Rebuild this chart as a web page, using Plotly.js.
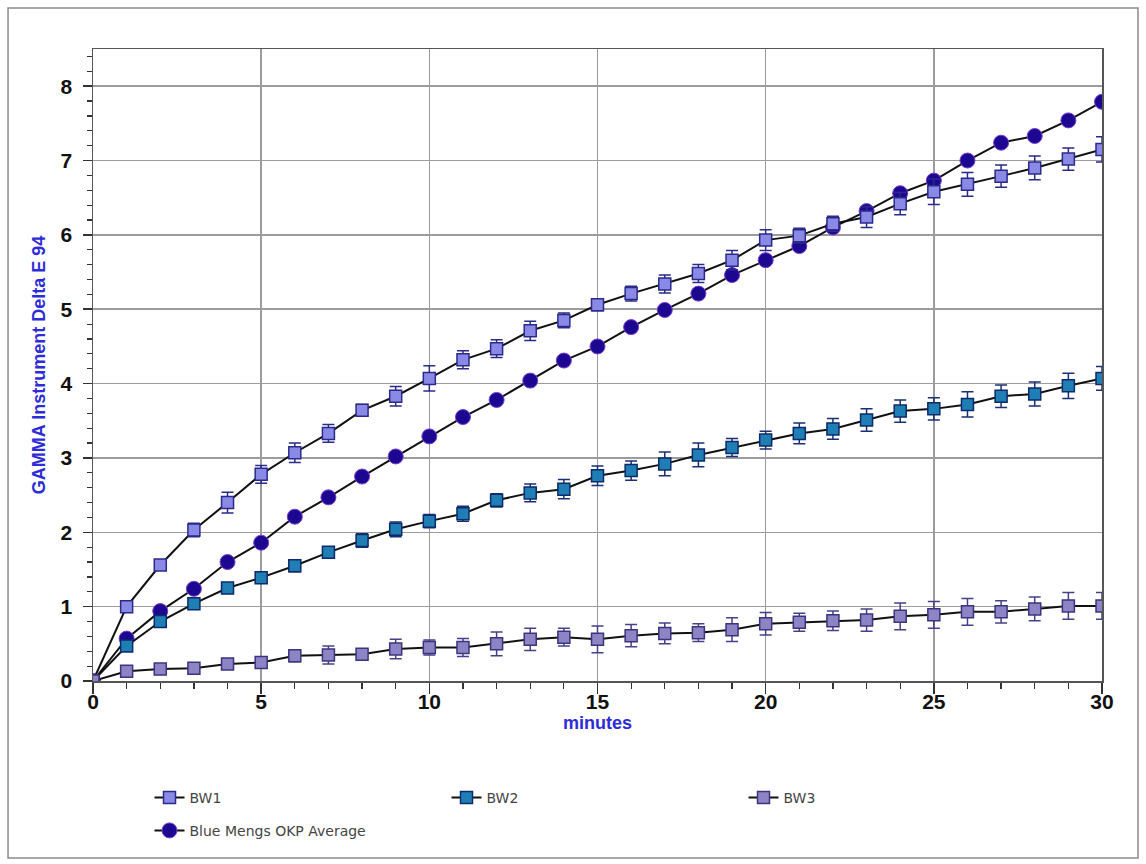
<!DOCTYPE html>
<html>
<head>
<meta charset="utf-8">
<script src="https://cdn.plot.ly/plotly-3.0.1.min.js"></script>
<style>html,body{margin:0;padding:0;background:#fff;}#chart{width:1146px;height:864px;}</style>
</head>
<body>
<div id="chart"></div>
<script>
const minutes = [0,1,2,3,4,5,6,7,8,9,10,11,12,13,14,15,16,17,18,19,20,21,22,23,24,25,26,27,28,29,30];

const bw1 = [0,1.00,1.56,2.03,2.40,2.78,3.07,3.33,3.64,3.83,4.07,4.32,4.47,4.71,4.85,5.06,5.21,5.34,5.48,5.66,5.93,5.99,6.15,6.24,6.42,6.58,6.68,6.79,6.90,7.02,7.15];
const bw1Err = [0,0.05,0.07,0.09,0.14,0.12,0.13,0.12,0.08,0.13,0.17,0.12,0.12,0.13,0.10,0.08,0.10,0.12,0.12,0.13,0.14,0.10,0.10,0.14,0.15,0.17,0.16,0.15,0.16,0.15,0.17];

const bw2 = [0,0.47,0.80,1.04,1.25,1.39,1.55,1.73,1.89,2.04,2.15,2.25,2.43,2.53,2.58,2.76,2.83,2.92,3.04,3.14,3.24,3.33,3.39,3.51,3.63,3.66,3.72,3.83,3.86,3.97,4.07];
const bw2Err = [0,0.05,0.05,0.06,0.05,0.05,0.08,0.07,0.09,0.10,0.09,0.10,0.09,0.12,0.13,0.13,0.13,0.16,0.16,0.12,0.12,0.14,0.14,0.15,0.15,0.15,0.17,0.15,0.16,0.17,0.16];

const bw3 = [0,0.13,0.16,0.17,0.23,0.25,0.34,0.35,0.36,0.43,0.45,0.45,0.50,0.56,0.59,0.56,0.61,0.64,0.65,0.69,0.77,0.79,0.81,0.82,0.87,0.89,0.93,0.93,0.97,1.01,1.01];
const bw3Err = [0,0.04,0.04,0.05,0.06,0.07,0.08,0.12,0.06,0.13,0.10,0.12,0.16,0.15,0.12,0.18,0.15,0.14,0.12,0.16,0.15,0.12,0.13,0.15,0.18,0.18,0.18,0.15,0.16,0.18,0.18];

const okpAvg = [0,0.57,0.94,1.24,1.60,1.86,2.21,2.47,2.75,3.02,3.29,3.55,3.78,4.04,4.31,4.50,4.76,4.99,5.21,5.46,5.66,5.85,6.10,6.32,6.56,6.73,7.00,7.24,7.33,7.54,7.79];

const seriesNames = ['BW1','BW2','BW3','Blue Mengs OKP Average'];

function sq(y, err, fill, edge, errColor, name) {
  return {
    x: minutes, y: y, name: name, type: 'scatter', mode: 'lines+markers',
    line: {color: '#111', width: 2},
    marker: {symbol: 'square', size: 12, color: fill, line: {color: edge, width: 1.5}},
    error_y: {type: 'data', array: err, visible: true, color: errColor, thickness: 1.5, width: 6},
    legend: 'legend'
  };
}

const traces = [
  {
    x: minutes, y: okpAvg, name: seriesNames[3], type: 'scatter', mode: 'lines+markers',
    line: {color: '#111', width: 2},
    marker: {symbol: 'circle', size: 15, color: '#1c0890', line: {color: '#7a3ad0', width: 1}},
    legend: 'legend2'
  },
  sq(bw1, bw1Err, '#8a8ae6', '#2a2a8a', '#2a2a8a', seriesNames[0]),
  sq(bw2, bw2Err, '#1f7fb5', '#0d2a6a', '#1a2f75', seriesNames[1]),
  sq(bw3, bw3Err, '#8c84c4', '#3c347c', '#45408a', seriesNames[2])
];

const tickFont = {family: 'Arial, Liberation Sans, sans-serif', size: 21, color: '#111', weight: 'bold'};
const titleFont = {family: 'Arial, Liberation Sans, sans-serif', size: 18, color: '#2c2cd8', weight: 'bold'};
const legendFont = {family: 'DejaVu Sans, Arial, sans-serif', size: 14, color: '#444'};

const layout = {
  width: 1146, height: 864,
  margin: {l: 93, r: 44, t: 49, b: 183},
  paper_bgcolor: '#fff', plot_bgcolor: '#fff',
  showlegend: true,
  xaxis: {
    range: [0, 30], dtick: 5, tick0: 0,
    ticks: 'outside', ticklen: 11, tickwidth: 1.5, tickcolor: '#333',
    minor: {dtick: 1, ticks: 'outside', ticklen: 6, tickwidth: 1.2, tickcolor: '#333', showgrid: false},
    showline: true, linecolor: '#555', linewidth: 1.5, mirror: true,
    showgrid: true, gridcolor: '#9c9c9c', gridwidth: 1.5, zeroline: false,
    tickfont: tickFont, ticklabelstandoff: -10,
    title: {text: 'minutes', font: titleFont, standoff: 3}
  },
  xaxis2: {
    overlaying: 'x', anchor: 'y', side: 'top', range: [0, 30], dtick: 1,
    ticks: 'inside', ticklen: 6, tickwidth: 1.2, tickcolor: '#333',
    showticklabels: false, showgrid: false, zeroline: false, showline: false
  },
  xaxis3: {
    overlaying: 'x', anchor: 'y', side: 'bottom', range: [0, 30], dtick: 1,
    ticks: 'inside', ticklen: 5, tickwidth: 1.2, tickcolor: '#333',
    showticklabels: false, showgrid: false, zeroline: false, showline: false
  },
  yaxis: {
    range: [0, 8.5], dtick: 1, tick0: 0,
    ticks: 'outside', ticklen: 9, tickwidth: 1.5, tickcolor: '#333',
    minor: {dtick: 0.2, ticks: 'outside', ticklen: 5, tickwidth: 1.2, tickcolor: '#333', showgrid: false},
    showline: true, linecolor: '#555', linewidth: 1.5, mirror: true,
    showgrid: true, gridcolor: '#9c9c9c', gridwidth: 1.5, zeroline: false,
    tickfont: tickFont, ticklabelstandoff: 6,
    title: {text: 'GAMMA Instrument Delta E 94', font: titleFont, standoff: 10}
  },
  yaxis2: {
    overlaying: 'y', anchor: 'x', side: 'right', range: [0, 8.5], dtick: 0.2,
    ticks: 'inside', ticklen: 5, tickwidth: 1.2, tickcolor: '#333',
    showticklabels: false, showgrid: false, zeroline: false, showline: false
  },
  yaxis3: {
    overlaying: 'y', anchor: 'x', side: 'left', range: [0, 8.5], dtick: 0.2,
    ticks: 'inside', ticklen: 5, tickwidth: 1.2, tickcolor: '#333',
    showticklabels: false, showgrid: false, zeroline: false, showline: false
  },
  legend: {
    orientation: 'h', x: 0.056, xanchor: 'left', y: -0.185, yanchor: 'middle',
    entrywidth: 252, entrywidthmode: 'pixels',
    font: legendFont,
    bgcolor: 'rgba(0,0,0,0)'
  },
  legend2: {
    orientation: 'h', x: 0.056, xanchor: 'left', y: -0.237, yanchor: 'middle',
    font: legendFont,
    bgcolor: 'rgba(0,0,0,0)'
  },
  shapes: [
    {type: 'rect', xref: 'paper', yref: 'paper', x0: -0.0842, x1: 1.0357, y0: -0.2801, y1: 1.0649,
     line: {color: '#8a8a8a', width: 1.5}, fillcolor: 'rgba(0,0,0,0)', layer: 'below'}
  ]
};

Plotly.newPlot('chart', traces, layout, {displayModeBar: false, staticPlot: true});
</script>
</body>
</html>
